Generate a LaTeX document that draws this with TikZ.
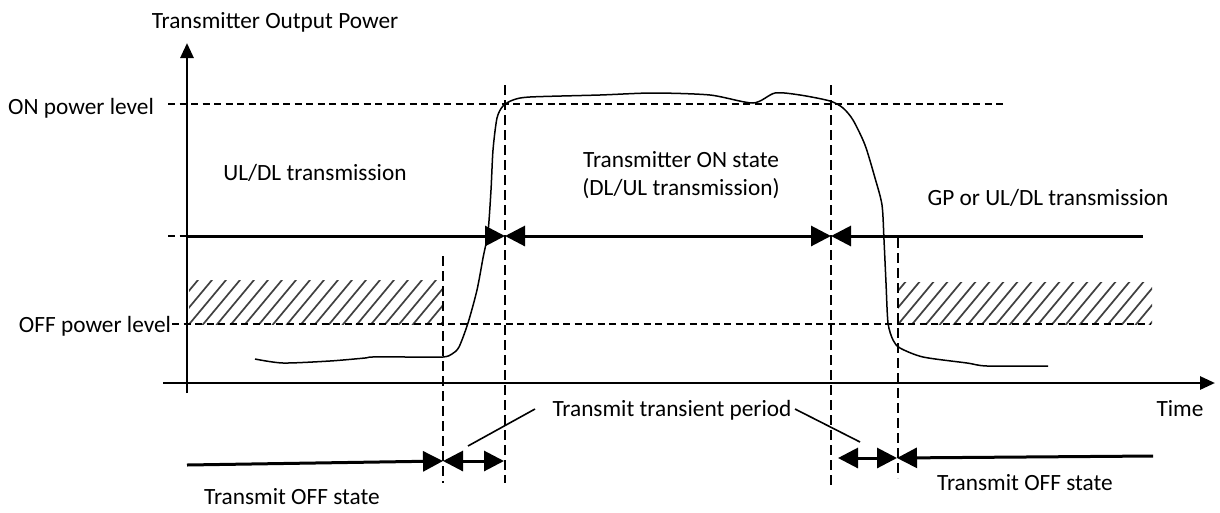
\documentclass[tikz,border=0pt]{standalone}
\usepackage{fontspec}
\setmainfont{Carlito}
\usetikzlibrary{arrows.meta}
\tikzset{bigtip/.tip={Triangle[length=20pt,width=20pt]}}
\begin{document}
\begin{tikzpicture}[x=1pt,y=-1pt,
  lbl/.style={inner sep=0pt,anchor=base,font=\fontsize{23.3}{28}\selectfont},
  axis/.style={line width=2.8pt,-{Triangle[length=15pt,width=13pt]}},
  thick3/.style={line width=3pt},
  dsh/.style={line width=2.2pt,dash pattern=on 7pt off 4.5pt},
  vdsh/.style={line width=2.2pt,dash pattern=on 10pt off 5pt},
  leader/.style={line width=1.6pt},
  wave/.style={line width=1.5pt},
  hatchline/.style={line width=1.7pt,black!75}
]
\useasboundingbox (0,0) rectangle (1220,512);
% coordinates
\coordinate (yb) at (187,393); \coordinate (yt) at (187,43);
\coordinate (xl) at (163,383); \coordinate (xr) at (1215,383);
\coordinate (onl) at (168,104); \coordinate (onr) at (1003,104);
\coordinate (offl) at (172,324); \coordinate (offr) at (1150,324);
\coordinate (tl0) at (168,236); \coordinate (tl1) at (187,236);
\coordinate (ta) at (505,236); \coordinate (tb) at (831,236); \coordinate (tr) at (1143,236);
% hatched areas
\begin{scope}
\clip (189,280) rectangle (443,324);
\foreach \i in {0,14,...,320} {\draw[hatchline] (189-50+\i,334) -- (189+\i,274);}
\end{scope}
\begin{scope}
\clip (898,282) rectangle (1152,324);
\foreach \i in {0,14,...,320} {\draw[hatchline] (898-50+\i,334) -- (898+\i,274);}
\end{scope}
% level lines
\draw[dsh] (onl) -- (onr);
\draw[dsh] (offl) -- (offr);
\draw[dsh] (tl0) -- (tl1);
% vertical dashed
\coordinate (v1t) at (443,256); \coordinate (v1b) at (443,483);
\coordinate (v2t) at (505,85);  \coordinate (v2b) at (505,483);
\coordinate (v3t) at (831,85);  \coordinate (v3b) at (831,488);
\coordinate (v4t) at (898,238); \coordinate (v4b) at (898,478);
\draw[vdsh] (v1t) -- (v1b);
\draw[vdsh] (v2t) -- (v2b);
\draw[vdsh] (v3t) -- (v3b);
\draw[vdsh] (v4t) -- (v4b);
% axes
\draw[axis] (yb) -- (yt);
\draw[axis] (xl) -- (xr);
% thick state line
\draw[thick3,-bigtip] (tl1) -- (ta);
\draw[thick3,bigtip-bigtip] (ta) -- (tb);
\draw[thick3,bigtip-] (tb) -- (tr);
% bottom arrows
\coordinate (b1) at (187,465); \coordinate (b2) at (443,461); \coordinate (b3) at (504,461);
\coordinate (b4) at (838,458); \coordinate (b5) at (897,458); \coordinate (b6) at (1153,456);
\draw[thick3,-bigtip] (b1) -- (b2);
\draw[thick3,bigtip-bigtip] (b2) -- (b3);
\draw[thick3,bigtip-bigtip] (b4) -- (b5);
\draw[thick3,bigtip-] (b5) -- (b6);
% waveform
\draw[wave] plot[smooth,tension=0.45] coordinates {
 (255,359) (283,363) (330,361) (365,358) (372,357) (410,357) (443,357) (452,354) (459,347)
 (468,323) (477,290) (483,258) (488,232) (491,190) (493,150) (497,118) (503,106) (513,100)
 (530,97) (600,95) (653,93) (710,95) (753,103) (775,93) (800,95) (830,101) (843,108)
 (853,120) (865,145) (875,178) (882,205) (884,240) (886,283) (888,323) (893,340) (900,348)
 (923,357) (967,363) (987,366) (1048,366)};
% labels
\node[lbl] (title) at (275,28) {Transmitter Output Power};
\node[lbl] (on) at (81,114) {ON power level};
\node[lbl] (off) at (95,332) {OFF power level};
\node[lbl] (uldl) at (315,180) {UL/DL transmission};
\node[lbl] (ons1) at (681,167) {Transmitter ON state};
\node[lbl] (ons2) at (681,195) {(DL/UL transmission)};
\node[lbl] (gp) at (1048,205) {GP or UL/DL transmission};
\node[lbl] (time) at (1180,416) {Time};
\node[lbl] (ttp) at (672,416) {Transmit transient period};
\node[lbl] (offs1) at (292,504) {Transmit OFF state};
\node[lbl] (offs2) at (1025,490) {Transmit OFF state};
% leaders
\coordinate (l1a) at (535,409); \coordinate (l1b) at (468,446);
\coordinate (l2a) at (795,409); \coordinate (l2b) at (860,442);
\draw[leader] (l1a) -- (l1b);
\draw[leader] (l2a) -- (l2b);
\end{tikzpicture}
\end{document}
